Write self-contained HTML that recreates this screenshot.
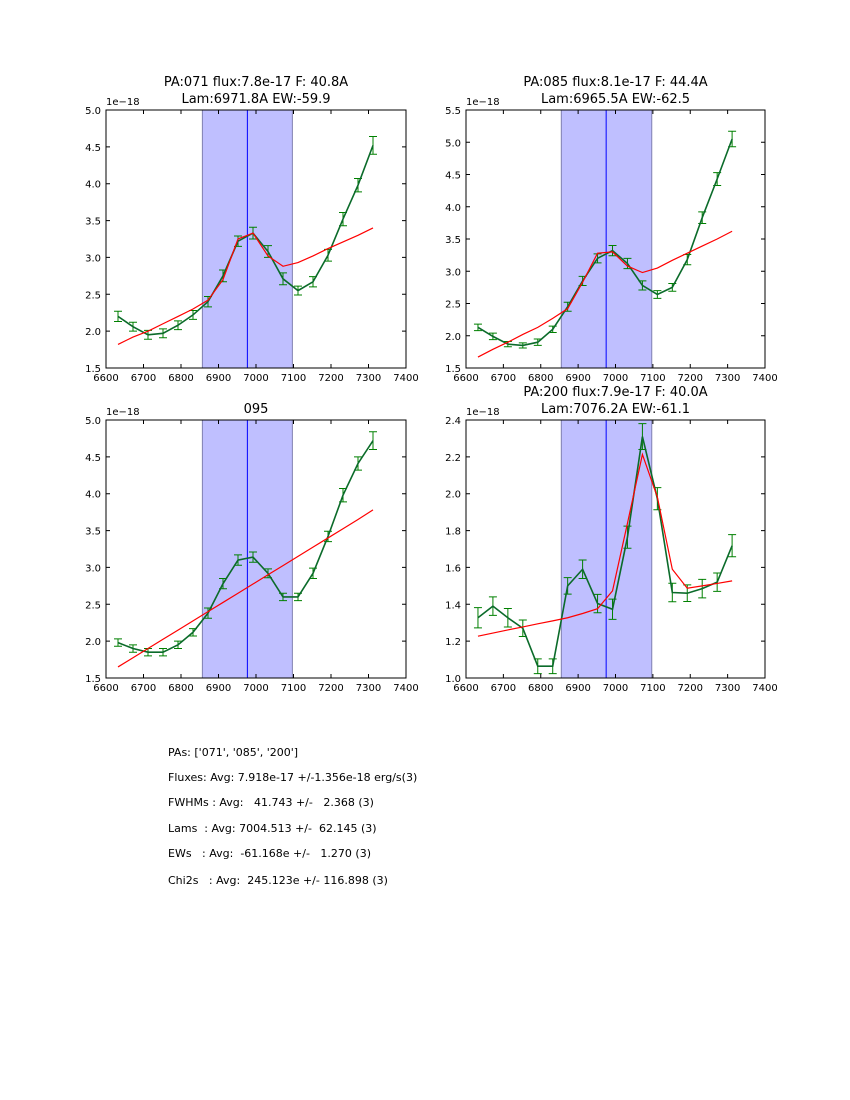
<!DOCTYPE html>
<html><head><meta charset="utf-8"><style>
body{margin:0;background:#fff;}
svg{display:block;font-family:"DejaVu Sans","Liberation Sans",sans-serif;}
</style></head><body>
<svg id="fig" width="850" height="1100"></svg>
<script>
const xs = [6632,6672,6712,6752,6792,6832,6872,6912,6952,6992,7032,7072,7112,7152,7192,7232,7272,7312];
const xTicks = [6600,6700,6800,6900,7000,7100,7200,7300,7400];
const p1Data = [2.2,2.06,1.95,1.97,2.08,2.22,2.4,2.75,3.22,3.33,3.08,2.71,2.55,2.67,3.03,3.52,3.98,4.52];
const p1Err = [0.07,0.06,0.06,0.06,0.06,0.06,0.07,0.08,0.07,0.08,0.08,0.08,0.06,0.07,0.08,0.09,0.09,0.12];
const p1Fit = [1.82,1.92,2.0,2.1,2.2,2.3,2.42,2.7,3.25,3.33,3.02,2.88,2.93,3.02,3.12,3.21,3.3,3.4];
const p1Ticks = [1.5,2.0,2.5,3.0,3.5,4.0,4.5,5.0];
const p2Data = [2.13,1.99,1.87,1.85,1.9,2.1,2.45,2.85,3.2,3.32,3.12,2.78,2.64,2.75,3.18,3.83,4.43,5.05];
const p2Err = [0.05,0.05,0.04,0.04,0.05,0.05,0.07,0.07,0.07,0.08,0.08,0.07,0.06,0.06,0.08,0.09,0.1,0.12];
const p2Fit = [1.67,1.79,1.9,2.02,2.13,2.27,2.42,2.83,3.28,3.3,3.08,2.98,3.05,3.17,3.28,3.39,3.5,3.62];
const p2Ticks = [1.5,2.0,2.5,3.0,3.5,4.0,4.5,5.0,5.5];
const p3Data = [1.98,1.9,1.85,1.85,1.95,2.12,2.38,2.78,3.1,3.14,2.92,2.6,2.6,2.92,3.42,3.98,4.41,4.72];
const p3Err = [0.05,0.05,0.05,0.05,0.05,0.05,0.07,0.07,0.07,0.07,0.06,0.05,0.05,0.07,0.07,0.09,0.09,0.12];
const p3Fit = [1.65,1.775,1.9,2.025,2.15,2.275,2.4,2.525,2.65,2.775,2.9,3.025,3.15,3.275,3.4,3.525,3.65,3.78];
const p3Ticks = [1.5,2.0,2.5,3.0,3.5,4.0,4.5,5.0];
const p4Data = [1.327,1.39,1.327,1.27,1.064,1.064,1.5,1.59,1.404,1.373,1.764,2.31,1.973,1.464,1.46,1.485,1.52,1.718];
const p4Err = [0.055,0.05,0.05,0.045,0.04,0.04,0.045,0.05,0.05,0.055,0.06,0.07,0.06,0.05,0.045,0.05,0.05,0.06];
const p4Fit = [1.227,1.244,1.261,1.277,1.294,1.31,1.327,1.35,1.376,1.473,1.84,2.213,1.982,1.59,1.487,1.5,1.513,1.527];
const p4Ticks = [1.0,1.2,1.4,1.6,1.8,2.0,2.2,2.4];

const NS="http://www.w3.org/2000/svg";
const svg=document.getElementById('fig');
function mk(tag,attrs,parent){const e=document.createElementNS(NS,tag);for(const k in attrs)e.setAttribute(k,attrs[k]);(parent||svg).appendChild(e);return e;}

function panel(name,L,T,W,H,ymin,ymax,yt,fmt,data,err,fit,band,vline,t1,t2){
  const g=mk('g',{});
  
  
  const sx=v=>L+(v-6600)/800*W, sy=v=>T+H-(v-ymin)/(ymax-ymin)*H;
  const b=mk('rect',{x:sx(band[0]),y:T,width:sx(band[1])-sx(band[0]),height:H,fill:'#bfbfff',stroke:'#8080b0','stroke-width':1},g);
  
  
  const vl=mk('line',{x1:sx(vline),x2:sx(vline),y1:T,y2:T+H,stroke:'#0000ff','stroke-width':1},g);
  
  
  xs.forEach((x,i)=>{
    const X=sx(x),y1=sy(data[i]-err[i]),y2=sy(data[i]+err[i]);
    const eb=mk('path',{d:`M${X},${y1}V${y2}M${X-4},${y1}H${X+4}M${X-4},${y2}H${X+4}`,stroke:'#008000','stroke-width':1,fill:'none'},g);
    
    
  });
  const dl=mk('polyline',{points:xs.map((x,i)=>sx(x)+','+sy(data[i])).join(' '),fill:'none',stroke:'#0b6b2a','stroke-width':1.6},g);
  
  
  const fl=mk('polyline',{points:xs.map((x,i)=>sx(x)+','+sy(fit[i])).join(' '),fill:'none',stroke:'#ff0000','stroke-width':1.2},g);
  
  
  mk('rect',{x:L,y:T,width:W,height:H,fill:'none',stroke:'#000','stroke-width':1},g);
  xTicks.forEach(v=>{const X=sx(v);
    mk('path',{d:`M${X},${T+H}v-4M${X},${T}v4`,stroke:'#000','stroke-width':1},g);
    const t=mk('text',{x:X,y:T+H+13,'font-size':10,'text-anchor':'middle'},g);t.textContent=v;
    
    
  });
  yt.forEach(v=>{const Y=sy(v);
    mk('path',{d:`M${L},${Y}h4M${L+W},${Y}h-4`,stroke:'#000','stroke-width':1},g);
    const t=mk('text',{x:L-5,y:Y+4,'font-size':10,'text-anchor':'end'},g);t.textContent=v.toFixed(fmt);
    
    
  });
  const o=mk('text',{x:L,y:T-5,'font-size':10},g);o.textContent='1e\u221218';
  
  
  if(t1){const a=mk('text',{x:L+W/2,y:t2?T-24:T-7,'font-size':13,'text-anchor':'middle'},g);a.textContent=t1;
    
    }
  if(t2){const a=mk('text',{x:L+W/2,y:T-7,'font-size':13,'text-anchor':'middle'},g);a.textContent=t2;
    
    }
}
panel('panel-pa071',106,110,300,258,1.5,5.0,p1Ticks,1,p1Data,p1Err,p1Fit,[6857,7097],6977,'PA:071 flux:7.8e-17 F: 40.8A','Lam:6971.8A EW:-59.9');
panel('panel-pa085',466,110,299,258,1.5,5.5,p2Ticks,1,p2Data,p2Err,p2Fit,[6855,7097],6975,'PA:085 flux:8.1e-17 F: 44.4A','Lam:6965.5A EW:-62.5');
panel('panel-095',106,420,300,258,1.5,5.0,p3Ticks,1,p3Data,p3Err,p3Fit,[6857,7097],6977,'095',null);
panel('panel-pa200',466,420,299,258,1.0,2.4,p4Ticks,1,p4Data,p4Err,p4Fit,[6855,7097],6975,'PA:200 flux:7.9e-17 F: 40.0A','Lam:7076.2A EW:-61.1');

const lines=["PAs: ['071', '085', '200']","Fluxes: Avg: 7.918e-17 +/-1.356e-18 erg/s(3)","FWHMs : Avg:   41.743 +/-   2.368 (3)","Lams  : Avg: 7004.513 +/-  62.145 (3)","EWs   : Avg:  -61.168e +/-   1.270 (3)","Chi2s   : Avg:  245.123e +/- 116.898 (3)"];
const ly=[756,781,806,832,857,884];
lines.forEach((s,i)=>{const t=mk('text',{x:168,y:ly[i],'font-size':11,'xml:space':'preserve'});t.style.whiteSpace='pre';t.textContent=s;
  
  });
</script>
</body></html>
